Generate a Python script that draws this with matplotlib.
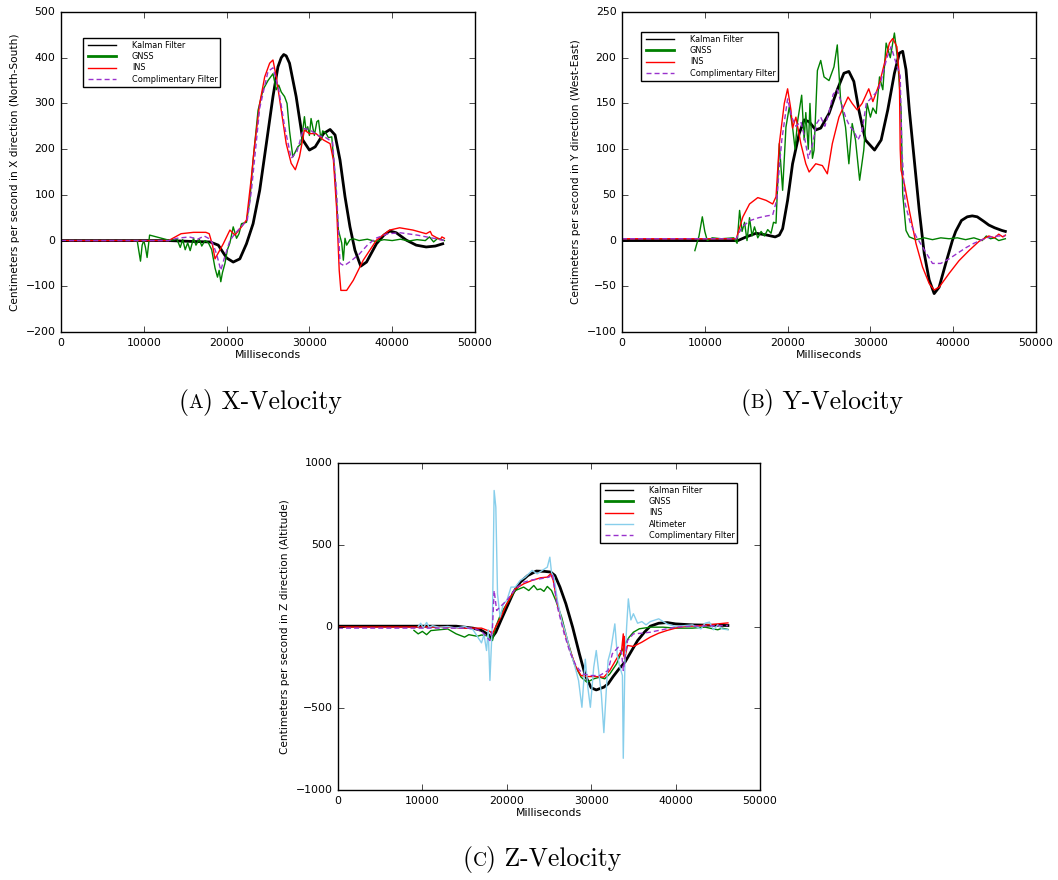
import numpy as np
import matplotlib
matplotlib.use('Agg')
import matplotlib.pyplot as plt
from matplotlib.offsetbox import TextArea, HPacker, AnchoredOffsetbox

# ---- X velocity (North-South) ----
x_kal_t = [0, 13000, 16000, 18000, 19000, 20000, 20800, 21600, 22400, 23200, 24000, 24800, 25600, 26200,
           26600, 26900, 27200, 27600, 28400, 29200, 30000, 30700, 31700, 32500, 33100, 33700, 34300, 34900,
           35500, 36200, 36900, 38100, 39000, 39700, 40500, 41700, 42900, 44100, 45200, 46100]
x_kal_v = [0, 0, -2, -3, -10, -38, -47, -40, -7, 37, 110, 212, 315, 380,
           400, 407, 404, 388, 315, 220, 198, 205, 234, 243, 231, 176, 96, 30,
           -21, -56, -47, -7, 12, 21, 17, 1, -10, -14, -12, -7]

x_gnss_t = [9200, 9600, 9800, 10000, 10200, 10400, 10700, 13200, 14000, 14400, 14700, 15000, 15300, 15600,
            16000, 16300, 16700, 17000, 17400, 17800, 18200, 18600, 18900, 19100, 19300, 19500, 19800, 20100,
            20400, 20800, 21200, 21500, 21800, 22400, 22800, 23200, 23500, 23800, 24400, 25000, 25600, 26000,
            26300, 26600, 27000, 27300, 27600, 28000, 28600, 29000, 29400, 29600, 29800, 30000, 30200, 30600,
            30900, 31100, 31400, 31600, 32000, 32300, 32700, 33100, 33500, 33900, 34100, 34300, 34500, 34900,
            35300, 36000, 37000, 38000, 39000, 40000, 41000, 42000, 43000, 44000, 44500, 45000, 45500, 46300]
x_gnss_v = [0, -45, -10, 0, -15, -37, 12, 0, 3, -15, 2, -20, -5, -22,
            5, -10, 3, -12, 0, -5, -20, -60, -80, -65, -90, -70, -50, -20,
            -5, 30, 5, 15, 37, 40, 88, 176, 230, 285, 330, 350, 365, 330,
            340, 325, 315, 300, 240, 183, 205, 212, 271, 240, 249, 230, 267, 230,
            260, 263, 220, 240, 235, 225, 227, 140, 23, -5, -43, 5, -10, 2,
            4, 0, 3, -2, 2, 0, 3, -1, 2, 0, 8, -3, 5, 0]

x_ins_t = [0, 13000, 13800, 14500, 16000, 17500, 17900, 18300, 18600, 19600, 20400, 21000, 21800, 22400,
           23000, 23400, 24000, 24600, 25200, 25600, 26000, 26600, 27200, 27800, 28300, 28800, 29400, 30000,
           30800, 31700, 32500, 32900, 33300, 33600, 33800, 34500, 35300, 36500, 38100, 39700, 40900, 42500,
           44100, 44600, 44800, 45200, 45800, 46000, 46300]
x_ins_v = [0, 0, 8, 15, 18, 18, 15, -10, -40, -7, 23, 12, 30, 45,
           140, 212, 300, 358, 388, 395, 358, 285, 212, 169, 155, 183, 242, 234,
           234, 220, 212, 176, 66, -65, -109, -109, -87, -43, 1, 23, 28, 23,
           15, 20, 12, 8, 2, 8, 5]

x_cf_t = [0, 13000, 14000, 15500, 16500, 17300, 17800, 18300, 18800, 19300, 19700, 20400, 21000, 22000,
          22500, 23000, 23500, 24000, 25000, 25600, 26300, 27000, 27800, 28500, 29300, 30000, 31000, 32000,
          32800, 33300, 33700, 34200, 35000, 36000, 37000, 38000, 39500, 41000, 43000, 45000, 46300]
x_cf_v = [0, 0, 5, 8, 3, 10, 5, -5, -30, -65, -40, 0, 15, 35,
          45, 110, 200, 290, 370, 378, 330, 250, 180, 195, 245, 243, 230, 225,
          215, 100, -50, -55, -45, -30, -10, 5, 15, 17, 12, 5, 0]

# ---- Y velocity (West-East) ----
y_kal_t = [0, 14000, 15000, 16200, 17500, 18500, 19000, 19400, 20000, 20600, 21400, 22000, 22600, 23400,
           24000, 25000, 26000, 26800, 27400, 28000, 28600, 29400, 30500, 31300, 32100, 32900, 33500, 33900,
           34300, 34700, 35300, 35900, 36500, 37100, 37700, 38300, 39100, 39900, 40300, 41000, 41700, 42300,
           42900, 43700, 44300, 45000, 45900, 46300]
y_kal_v = [0, 0, 4, 8, 6, 4, 6, 13, 44, 84, 117, 132, 130, 121,
           123, 139, 165, 183, 185, 174, 143, 110, 99, 110, 143, 183, 205, 207,
           187, 143, 88, 33, -14, -43, -58, -51, -25, 0, 10, 22, 26, 27,
           26, 21, 17, 14, 11, 10]

y_gnss_t = [8800, 9300, 9700, 10000, 10300, 10900, 12000, 13500, 13900, 14200, 14500, 14800, 15100, 15400,
            15700, 16000, 16400, 16800, 17200, 17600, 18000, 18300, 18600, 19000, 19400, 19800, 20200, 20600,
            20900, 21200, 21700, 22000, 22200, 22500, 22700, 23000, 23200, 23600, 24000, 24400, 25000, 25600,
            26000, 26400, 27000, 27400, 27800, 28200, 28700, 29200, 29600, 30000, 30300, 30700, 31100, 31500,
            31900, 32400, 32900, 33300, 33700, 33900, 34300, 34700, 35500, 36500, 37500, 38500, 39500, 40500,
            41500, 42500, 43500, 44000, 44500, 45000, 45500, 46300]
y_gnss_v = [-11, 5, 26, 10, 0, 3, 2, 3, -3, 33, 10, 20, 0, 25,
            5, 15, 3, 10, 5, 12, 8, 20, 19, 106, 55, 124, 146, 124,
            100, 130, 159, 110, 140, 100, 150, 90, 99, 186, 197, 179, 175, 190,
            214, 154, 124, 84, 128, 110, 66, 99, 150, 135, 145, 139, 179, 165,
            216, 200, 227, 197, 143, 51, 11, 4, 1, 3, 1, 3, 2, 3,
            1, 3, 0, 5, 2, 3, 0, 2]

y_ins_t = [0, 13800, 14600, 15400, 16400, 17400, 18200, 18600, 19000, 19600, 20000, 20400, 20600, 21000,
           21600, 22200, 22600, 23400, 24200, 24800, 25400, 26200, 27300, 27800, 28400, 29000, 29800, 30300,
           31100, 31700, 32300, 32700, 33200, 33500, 33600, 33700, 34100, 34700, 35500, 36300, 37100, 37700,
           38300, 39500, 40700, 41900, 43100, 44300, 45000, 45500, 46000, 46300]
y_ins_v = [2, 2, 26, 40, 47, 44, 40, 48, 106, 150, 166, 143, 123, 135,
           106, 84, 75, 84, 82, 73, 106, 135, 157, 150, 143, 150, 166, 152,
           172, 194, 216, 221, 212, 179, 100, 77, 62, 33, -3, -29, -47, -54,
           -51, -36, -22, -11, -1, 5, 3, 7, 4, 6]

y_cf_t = [0, 13800, 14500, 15500, 16500, 17500, 18200, 18700, 19000, 19300, 20000, 20500, 21000, 21600,
          22000, 22500, 23000, 23500, 24000, 24500, 25000, 25500, 26000, 26500, 27000, 27500, 28000, 28500,
          29000, 29500, 30000, 31000, 32000, 32500, 33000, 33600, 33800, 34200, 34800, 35500, 36500, 37500,
          38500, 39500, 40500, 41500, 42500, 43500, 44500, 45500, 46300]
y_cf_v = [2, 2, 15, 22, 25, 27, 28, 45, 80, 110, 155, 135, 125, 130,
          115, 90, 105, 128, 135, 125, 140, 160, 165, 150, 135, 125, 120, 110,
          120, 150, 155, 165, 200, 212, 197, 180, 100, 40, 20, 5, -10, -25,
          -25, -20, -14, -8, -3, 1, 4, 5, 5]

# ---- Z velocity (Altitude) ----
z_kal_t = [0, 14000, 15000, 16000, 17000, 17800, 18200, 18700, 19300, 20000, 20800, 21600, 22500, 23500,
           24500, 25200, 25700, 26300, 27000, 27800, 28600, 29300, 30000, 30600, 31500, 32000, 32600, 33300,
           34000, 34800, 35500, 36300, 37000, 38000, 39000, 40000, 42000, 44000, 46200]
z_kal_v = [2, 2, -4, -10, -24, -49, -71, -35, 37, 118, 210, 271, 312, 339,
           337, 333, 312, 241, 139, -4, -167, -300, -375, -388, -371, -351, -306, -259,
           -218, -147, -86, -35, 2, 20, 24, 16, 10, 8, 6]

z_gnss_t = [9000, 9500, 10000, 10500, 11000, 12000, 13000, 13500, 14000, 14500, 15000, 15500, 16000, 16500,
            17000, 17500, 17800, 18300, 18700, 19300, 20000, 21000, 22000, 22600, 23200, 23600, 24000, 24400,
            24800, 25300, 25800, 26500, 27200, 28000, 28800, 29500, 30300, 31000, 31600, 32200, 33000, 33500,
            34000, 34500, 35000, 35700, 37000, 38500, 40000, 42000, 43500, 44500, 45000, 45500, 46200]
z_gnss_v = [-24, -45, -30, -50, -25, -20, -15, -30, -45, -55, -65, -50, -55, -60,
            -52, -55, -60, -86, 0, 78, 139, 220, 241, 220, 251, 225, 230, 215,
            245, 220, 159, 57, -86, -229, -310, -341, -320, -310, -320, -290, -229, -167,
            -106, -65, -35, -14, -4, -4, -10, -10, -4, -15, -20, -10, -18]

z_ins_t = [0, 13000, 14000, 17000, 17500, 18000, 18300, 18700, 19300, 20000, 21000, 22000, 23000, 24000,
           24800, 25200, 25500, 26000, 26800, 27500, 28200, 28800, 29500, 30500, 31500, 32200, 33000, 33600,
           33800, 33850, 33900, 33950, 34000, 34300, 35000, 36000, 37000, 38000, 39000, 40000, 41000, 43000,
           45000, 46200]
z_ins_v = [-3, -3, -10, -10, -20, -30, -45, 0, 57, 139, 230, 261, 282, 298,
           302, 322, 282, 139, -24, -147, -249, -300, -306, -306, -310, -269, -198, -147,
           -45, -180, -60, -200, -188, -116, -122, -96, -65, -41, -24, -10, 0, 6,
           16, 22]

z_alt_t = [9500, 9800, 10100, 10500, 10800, 11200, 12000, 13000, 14000, 15000, 16000, 16500, 17000, 17300,
           17600, 17800, 18000, 18300, 18500, 18700, 18900, 19200, 19600, 20000, 20500, 21000, 21600, 22200,
           23000, 23600, 24200, 24800, 25100, 25300, 25600, 26000, 26500, 27000, 27500, 28000, 28500, 28900,
           29300, 29600, 29900, 30300, 30600, 30900, 31200, 31500, 31800, 32000, 32300, 32800, 33100, 33400,
           33700, 33800, 34000, 34200, 34400, 34700, 35000, 35500, 36000, 36500, 37000, 38000, 39000, 40000,
           41000, 42000, 43000, 43500, 44000, 44500, 45000, 45500, 46200]
z_alt_v = [0, 20, -10, 25, -5, 5, -5, 0, -10, 0, -20, -60, -100, -50,
           -147, -20, -330, 37, 832, 730, 200, 57, 139, 159, 241, 241, 282, 302,
           343, 322, 343, 363, 424, 330, 300, 159, 37, -45, -150, -230, -330, -494,
           -200, -371, -494, -249, -147, -280, -412, -649, -380, -208, -150, 16, -180, -249,
           -300, -806, -208, 0, 169, 40, 78, 20, 30, 10, 30, 47, 15, 0,
           5, 10, -15, 20, 27, -20, 10, -15, -20]

z_cf_t = [0, 16000, 17000, 18000, 18300, 18500, 18800, 19200, 20000, 21000, 22000, 23000, 24000, 25000,
          25400, 26000, 26800, 27500, 28200, 29000, 30000, 31000, 32000, 32500, 33200, 33600, 33800, 34300,
          35000, 36000, 37000, 38000, 39000, 40000, 42000, 44000, 46200]
z_cf_v = [-10, -10, -29, -86, -10, 220, 98, 120, 159, 230, 271, 285, 292, 302,
          322, 118, -45, -160, -240, -290, -300, -300, -269, -167, -127, -160, -269, -86,
          -45, -41, -35, -24, -14, -4, 2, 4, 6]

plt.style.use('classic')
plt.rcParams['font.family'] = 'DejaVu Sans'
plt.rcParams['font.size'] = 7.8
plt.rcParams['figure.facecolor'] = 'white'
plt.rcParams['savefig.facecolor'] = 'white'

fig = plt.figure(figsize=(10.58, 8.8), dpi=100)
W, H = 1058.0, 880.0


def make_axes(l, t, r, b):
    return fig.add_axes([l / W, 1 - b / H, (r - l) / W, (b - t) / H])


def style_axes(ax, ylim, ystep, ylabel):
    ax.set_xlim(0, 50000)
    ax.set_ylim(*ylim)
    ax.set_xticks(np.arange(0, 50001, 10000))
    ax.set_yticks(np.arange(ylim[0], ylim[1] + 1, ystep))
    ax.tick_params(labelsize=7.8)
    ax.set_xlabel('Milliseconds', fontsize=7.8, labelpad=2)
    ax.set_ylabel(ylabel, fontsize=7.6, labelpad=4)


def add_legend(ax, x, y):
    leg = ax.legend(loc='upper left', bbox_to_anchor=(x / W, 1 - y / H), bbox_transform=fig.transFigure,
                    fontsize=5.9, handlelength=4.0, handletextpad=1.6, labelspacing=0.28,
                    borderaxespad=0, borderpad=0.35, fancybox=False, numpoints=2)
    leg.get_frame().set_linewidth(1.0)
    for ln in leg.get_lines():
        ln.set_linewidth(1.0)
    leg.get_lines()[1].set_linewidth(2.0)
    return leg


green = (0, 0.5, 0)
purple = '#9932cc'
dash = (3.6, 2.2)

# Panel A
ax1 = make_axes(61, 12, 475, 332)
ax1.plot(x_kal_t, x_kal_v, color='black', lw=2, label='Kalman Filter')
ax1.plot(x_gnss_t, x_gnss_v, color=green, lw=1, label='GNSS')
ax1.plot(x_ins_t, x_ins_v, color='red', lw=1, label='INS')
ax1.plot(x_cf_t, x_cf_v, color=purple, lw=1, ls='--', dashes=dash, label='Complimentary Filter')
style_axes(ax1, (-200, 500), 100, 'Centimeters per second in X direction (North-South)')
add_legend(ax1, 83, 38)

# Panel B
ax2 = make_axes(622, 12, 1036, 332)
ax2.plot(y_kal_t, y_kal_v, color='black', lw=2, label='Kalman Filter')
ax2.plot(y_gnss_t, y_gnss_v, color=green, lw=1, label='GNSS')
ax2.plot(y_ins_t, y_ins_v, color='red', lw=1, label='INS')
ax2.plot(y_cf_t, y_cf_v, color=purple, lw=1, ls='--', dashes=dash, label='Complimentary Filter')
style_axes(ax2, (-100, 250), 50, 'Centimeters per second in Y direction (West-East)')
add_legend(ax2, 641, 32)

# Panel C
ax3 = make_axes(338, 463, 760, 790)
ax3.plot(z_kal_t, z_kal_v, color='black', lw=2, label='Kalman Filter')
ax3.plot(z_gnss_t, z_gnss_v, color=green, lw=1, label='GNSS')
ax3.plot(z_ins_t, z_ins_v, color='red', lw=1, label='INS')
ax3.plot(z_alt_t, z_alt_v, color='skyblue', lw=1, label='Altimeter')
ax3.plot(z_cf_t, z_cf_v, color=purple, lw=1, ls='--', dashes=dash, label='Complimentary Filter')
style_axes(ax3, (-1000, 1000), 500, 'Centimeters per second in Z direction (Altitude)')
add_legend(ax3, 600, 483)


def caption(letter, name, x, y):
    big = dict(family='cmr10', size=18.5)
    small = dict(family='cmr10', size=14)
    parts = [TextArea('(', textprops=big), TextArea(letter, textprops=small),
             TextArea(') ' + name, textprops=big)]
    box = HPacker(children=parts, align='baseline', pad=0, sep=0)
    ab = AnchoredOffsetbox(loc='center', child=box, bbox_to_anchor=(x / W, 1 - y / H),
                           bbox_transform=fig.transFigure, frameon=False, pad=0, borderpad=0)
    fig.add_artist(ab)


caption('A', 'X-Velocity', 260, 402)
caption('B', 'Y-Velocity', 822, 402)
caption('C', 'Z-Velocity', 542, 859)

fig.savefig('out.png', dpi=100)
